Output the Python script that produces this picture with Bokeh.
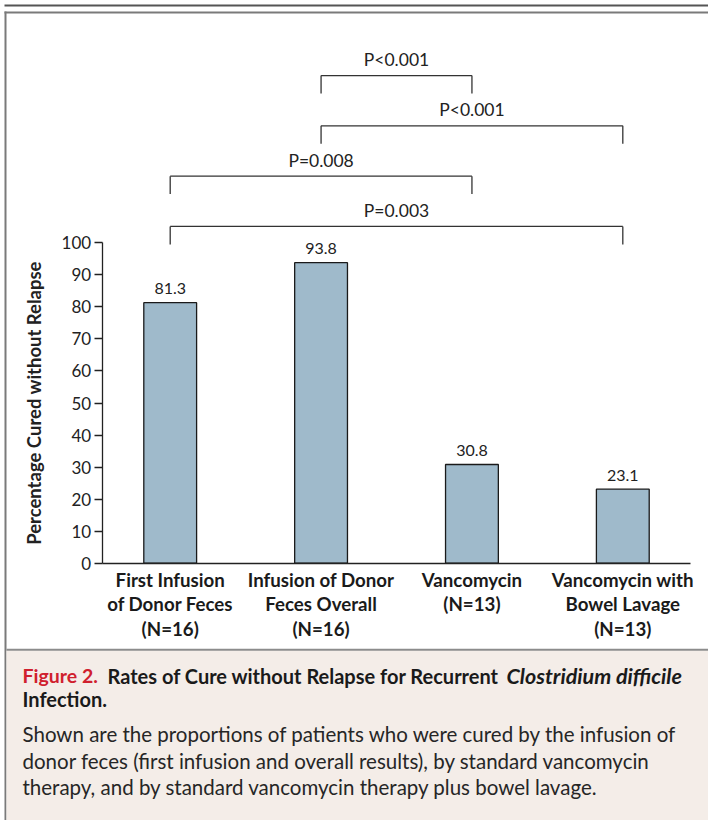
from bokeh.plotting import figure
from bokeh.models import Range1d, LinearAxis, FixedTicker
from bokeh.embed import file_html
from bokeh.resources import INLINE
from bokeh.core.properties import value

# ---------------- data ----------------
categories = [
    "First Infusion\nof Donor Feces\n(N=16)",
    "Infusion of Donor\nFeces Overall\n(N=16)",
    "Vancomycin\n(N=13)",
    "Vancomycin with\nBowel Lavage\n(N=13)",
]
cure_rates = [81.3, 93.8, 30.8, 23.1]
rate_labels = ["81.3", "93.8", "30.8", "23.1"]
cmp_from = [1, 1, 0, 0]
cmp_to = [2, 3, 2, 3]
p_values = ["P<0.001", "P<0.001", "P=0.008", "P=0.003"]
y_ticks = [0, 10, 20, 30, 40, 50, 60, 70, 80, 90, 100]
y_title = "Percentage Cured without Relapse"
fig_label = "Figure 2."
title_main = "Rates of Cure without Relapse for Recurrent "
title_italic = "Clostridium difficile"
title_end = "Infection."
body_lines = [
    "Shown are the proportions of patients who were cured by the infusion of",
    "donor feces (first infusion and overall results), by standard vancomycin",
    "therapy, and by standard vancomycin therapy plus bowel lavage.",
]

# ---------------- layout ----------------
W, H, OFF = 708, 820, 0
X0, DX = 169.7, 150.87     # page px of first category centre, px per category
Y0, PXU = 562.7, 3.204     # page px of y=0, px per percentage point
FONT = value("Lato")


def ax(px):
    return (px - X0) / DX


def ay(py):
    return (Y0 - py) / PXU


p = figure(
    width=W, height=H,
    x_range=Range1d(ax(OFF), ax(OFF + W)),
    y_range=Range1d(ay(OFF + H), ay(OFF)),
    x_axis_type=None, y_axis_type=None,
    output_backend="svg", toolbar_location=None, min_border=0,
)
p.outline_line_color = None
p.background_fill_color = "white"
p.border_fill_color = "white"

# decorations (frame of the figure panel + caption box)
p.quad(left=ax(4), right=ax(708), top=ay(4), bottom=ay(6), fill_color="#555555", line_color=None)
p.quad(left=ax(4), right=ax(708), top=ay(11), bottom=ay(13), fill_color="#7a7a7a", line_color=None)
p.quad(left=ax(4), right=ax(6), top=ay(11), bottom=ay(820), fill_color="#7a7a7a", line_color=None)
p.quad(left=ax(6), right=ax(708), top=ay(650), bottom=ay(820), fill_color="#f4ede8", line_color=None)
p.quad(left=ax(6), right=ax(708), top=ay(648.3), bottom=ay(650.3), fill_color="#8c8c8c", line_color=None)

idx = list(range(len(categories)))

# axes
yaxis = LinearAxis(
    fixed_location=ax(101.7), bounds=(0, 100),
    ticker=FixedTicker(ticks=y_ticks, minor_ticks=[]),
    axis_label=y_title,
)
yaxis.axis_line_color = "#222222"
yaxis.axis_line_width = 1.3
yaxis.major_tick_line_color = "#222222"
yaxis.major_tick_line_width = 1.3
yaxis.major_tick_in = 0
yaxis.major_tick_out = 8
yaxis.minor_tick_line_color = None
yaxis.major_label_text_font = "Lato"
yaxis.major_label_text_font_size = "17px"
yaxis.major_label_text_color = "#222222"
yaxis.major_label_standoff = 3
yaxis.axis_label_text_font = "Lato"
yaxis.axis_label_text_font_style = "bold"
yaxis.axis_label_text_font_size = "18.5px"
yaxis.axis_label_text_color = "#222222"
yaxis.axis_label_standoff = 14
p.add_layout(yaxis, "left")

xaxis = LinearAxis(
    fixed_location=0, bounds=(ax(101.7), ax(690)),
    ticker=FixedTicker(ticks=idx, minor_ticks=[]),
    major_label_overrides={i: c for i, c in enumerate(categories)},
)
xaxis.axis_line_color = "#222222"
xaxis.axis_line_width = 1.3
xaxis.major_tick_line_color = None
xaxis.minor_tick_line_color = None
xaxis.major_label_text_font = "Lato"
xaxis.major_label_text_font_style = "bold"
xaxis.major_label_text_font_size = "18.7px"
xaxis.major_label_text_color = "#1a1a1a"
xaxis.major_label_text_line_height = 1.1
xaxis.major_label_standoff = 0
p.add_layout(xaxis, "below")

# bars
p.vbar(x=idx, top=cure_rates, bottom=0, width=0.35,
       fill_color="#9fbacb", line_color="#1a1a1a", line_width=1.3)
p.text(x=idx, y=cure_rates, text=rate_labels, text_align="center",
       text_baseline="alphabetic", y_offset=-14, text_font=FONT,
       text_font_size="16px", text_color="#222222")

# significance brackets
n = len(p_values)
base_level, step, leg = 105.1, 15.7, 5.6
levels = [base_level + step * (n - 1 - k) for k in range(n)]
p.segment(x0=cmp_from, y0=levels, x1=cmp_to, y1=levels, line_color="#333333", line_width=1.3)
p.segment(x0=cmp_from, y0=levels, x1=cmp_from, y1=[l - leg for l in levels], line_color="#333333", line_width=1.3)
p.segment(x0=cmp_to, y0=levels, x1=cmp_to, y1=[l - leg for l in levels], line_color="#333333", line_width=1.3)
p.text(x=[(a + b) / 2 for a, b in zip(cmp_from, cmp_to)], y=levels, text=p_values,
       text_align="center", text_baseline="alphabetic", y_offset=-16,
       text_font=FONT, text_font_size="17.5px", text_color="#222222")

# caption
TS = "20px"
p.text(x=[ax(22)], y=[ay(675)], text=[fig_label], text_font=FONT, text_font_style="bold",
       text_font_size="19.5px", text_color="#d0202e", text_baseline="alphabetic")
p.text(x=[ax(107)], y=[ay(675)], text=[title_main], text_font=FONT, text_font_style="bold",
       text_font_size=TS, text_color="#1a1a1a", text_baseline="alphabetic")
p.text(x=[ax(506)], y=[ay(675)], text=[title_italic], text_font=FONT, text_font_style="bold italic",
       text_font_size="21.5px", text_color="#1a1a1a", text_baseline="alphabetic")
p.text(x=[ax(22)], y=[ay(698)], text=[title_end], text_font=FONT, text_font_style="bold",
       text_font_size=TS, text_color="#1a1a1a", text_baseline="alphabetic")
p.text(x=[ax(22)] * len(body_lines), y=[ay(733.5), ay(760), ay(786.5)], text=body_lines,
       text_font=FONT, text_font_size="20.5px", text_color="#262626", text_baseline="alphabetic")

open("out.html", "w").write(file_html(p, INLINE))
